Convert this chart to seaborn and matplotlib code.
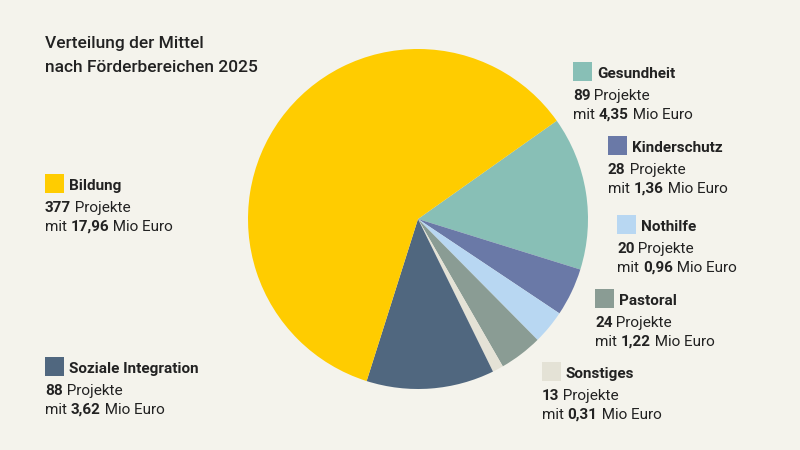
import matplotlib
matplotlib.use('Agg')
import matplotlib.pyplot as plt
from matplotlib.patches import Rectangle
import seaborn as sns

# data, in clockwise order starting at the upper right
categories = ['Gesundheit', 'Kinderschutz', 'Nothilfe', 'Pastoral', 'Sonstiges',
              'Soziale Integration', 'Bildung']
projects = [89, 28, 20, 24, 13, 88, 377]
funds = [4.35, 1.36, 0.96, 1.22, 0.31, 3.62, 17.96]
funds_labels = ['4,35', '1,36', '0,96', '1,22', '0,31', '3,62', '17,96']
colors = ['#88BFB6', '#6A79A7', '#B8D7F2', '#8A9C94', '#E4E2D6', '#50677F', '#FFCC00']

# legend block anchors in pixels (left, top), measured from the top of the image
block_pos = [(573, 62), (608, 136), (617, 215), (595, 289), (542, 362), (45, 357), (45, 174)]

BG = '#F4F3EC'
TXT = '#222222'
W, H = 800, 450

sns.set_theme(style='white')
plt.rcParams['font.family'] = ['Roboto', 'DejaVu Sans']

fig = plt.figure(figsize=(8, 4.5), dpi=100, facecolor=BG)

# pie centre (418, 219), radius 170 px
cx, cy, r = 418, 219, 170
ax = fig.add_axes([(cx - r) / W, (H - cy - r) / H, 2 * r / W, 2 * r / H])
ax.set_facecolor(BG)
ax.pie(funds, colors=colors, startangle=35.3, counterclock=False,
       wedgeprops=dict(linewidth=0), radius=1)
ax.set_xlim(-1, 1)
ax.set_ylim(-1, 1)
ax.set_aspect('equal')
ax.axis('off')

renderer = fig.canvas.get_renderer()


def px(x, y):
    return x / W, 1 - y / H


def draw_runs(x, y, runs, size=11):
    # draw pieces of text one after another on a baseline, mixing weights
    for text, weight in runs:
        t = fig.text(*px(x, y), text, fontsize=size, fontweight=weight, color=TXT,
                     ha='left', va='baseline')
        bb = t.get_window_extent(renderer)
        x += bb.width


fig.text(*px(45, 48), 'Verteilung der Mittel', fontsize=12.5, fontweight='medium',
         color=TXT, ha='left', va='baseline')
fig.text(*px(45, 72), 'nach Förderbereichen 2025', fontsize=12.5, fontweight='medium',
         color=TXT, ha='left', va='baseline')

for cat, n, lab, col, (L, T) in zip(categories, projects, funds_labels, colors, block_pos):
    fig.patches.append(Rectangle(px(L, T + 19), 19 / W, 19 / H, transform=fig.transFigure,
                                 facecolor=col, edgecolor='none'))
    draw_runs(L + 24, T + 16, [(cat, 'bold')])
    draw_runs(L, T + 38, [(str(n), 'bold'), (' Projekte', 'normal')])
    draw_runs(L, T + 57, [('mit ', 'normal'), (lab, 'bold'), (' Mio Euro', 'normal')])

fig.savefig('out.png', dpi=100, facecolor=BG)
